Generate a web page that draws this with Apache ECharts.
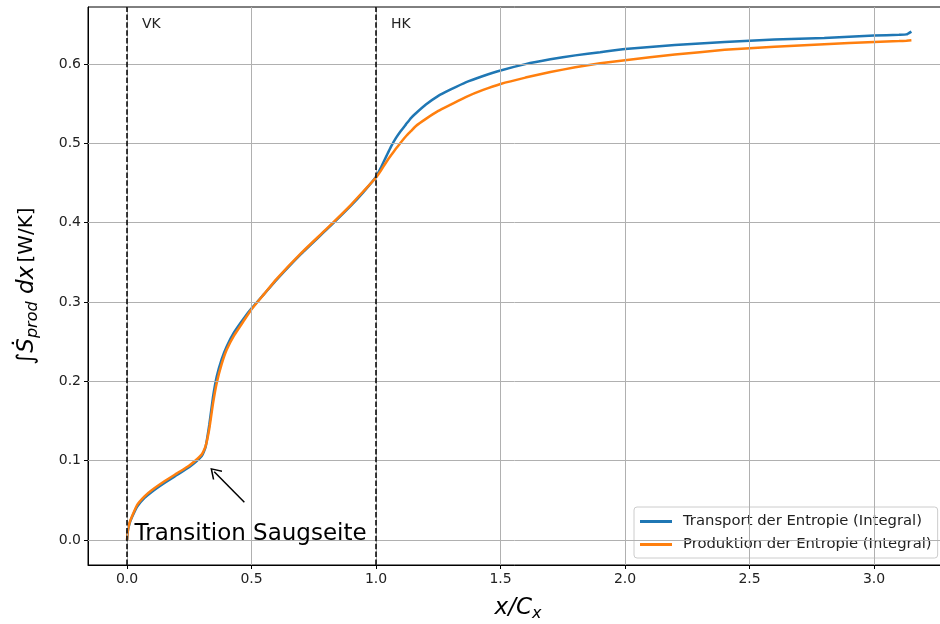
<!DOCTYPE html>
<html>
<head>
<meta charset="utf-8">
<script src="https://cdn.jsdelivr.net/npm/echarts@6/dist/echarts.min.js"></script>
<style>html,body{margin:0;padding:0;background:#fff}#c{width:940px;height:624px}</style>
</head>
<body>
<div id="c"></div>
<script>
const xs = [0, 0.003, 0.01, 0.02, 0.04, 0.07, 0.1, 0.15, 0.2, 0.25, 0.3, 0.315, 0.33, 0.345, 0.36, 0.38, 0.4, 0.43, 0.47, 0.5, 0.55, 0.6, 0.7, 0.8, 0.9, 0.95,
  1.0, 1.02, 1.04, 1.06, 1.08, 1.1, 1.12, 1.14, 1.16, 1.2, 1.25, 1.3, 1.36, 1.43, 1.5, 1.6, 1.7, 1.8, 1.9, 2.0, 2.2, 2.4, 2.6, 2.8, 3.0, 3.1, 3.13, 3.15];
const transport = [0, 0.011, 0.021, 0.029, 0.042, 0.053, 0.061, 0.072, 0.082, 0.092, 0.106, 0.117, 0.145, 0.18, 0.206, 0.228, 0.244, 0.262, 0.28, 0.292, 0.31, 0.328, 0.361, 0.391, 0.422, 0.439,
  0.458, 0.470, 0.483, 0.496, 0.507, 0.516, 0.524, 0.532, 0.538, 0.549, 0.560, 0.568, 0.577, 0.585, 0.592, 0.600, 0.606, 0.611, 0.615, 0.619, 0.624, 0.628, 0.631, 0.633, 0.636, 0.637, 0.6375, 0.641];
const produktion = [0, 0.012, 0.022, 0.03, 0.044, 0.055, 0.063, 0.074, 0.084, 0.094, 0.108, 0.118, 0.14, 0.172, 0.198, 0.222, 0.24, 0.258, 0.277, 0.291, 0.31, 0.329, 0.362, 0.392, 0.423, 0.44,
  0.457, 0.466, 0.476, 0.485, 0.4935, 0.5015, 0.509, 0.5155, 0.522, 0.531, 0.541, 0.549, 0.5585, 0.5675, 0.575, 0.583, 0.590, 0.596, 0.601, 0.605, 0.612, 0.618, 0.622, 0.625, 0.628, 0.629, 0.6295, 0.63];
const xTicks = [0, 0.5, 1.0, 1.5, 2.0, 2.5, 3.0];
const yTicks = [0, 0.1, 0.2, 0.3, 0.4, 0.5, 0.6];
const seriesNames = ['Transport der Entropie (Integral)', 'Produktion der Entropie (Integral)'];
const markerLines = [0, 1];
const markerLabels = ['VK', 'HK'];
const annotationText = 'Transition Saugseite';
const annotationTextAt = [0.03, 0.0];
const arrowFrom = [0.471, 0.0475];
const arrowTo = [0.35, 0.086];

const FONT = 'DejaVu Sans';
const chart = echarts.init(document.getElementById('c'), null, {renderer: 'canvas'});

const gridLineData = [
  ...xTicks.map(v => ({xAxis: v})),
  ...yTicks.map(v => ({yAxis: v}))
];

const option = {
  animation: false,
  backgroundColor: '#fff',
  grid: {left: 88, top: 7, width: 860, bottom: 59, outerBoundsMode: 'none', containLabel: false,
    show: true, borderColor: '#000', borderWidth: 1, backgroundColor: 'transparent'},
  xAxis: {
    type: 'value', min: -0.157, max: 3.297,
    axisLine: {show: true, onZero: false, lineStyle: {color: '#000', width: 1}},
    axisTick: {show: true, customValues: xTicks, length: 4, lineStyle: {color: '#000'}},
    axisLabel: {customValues: xTicks, formatter: v => v.toFixed(1), fontFamily: FONT, fontSize: 14, color: '#222', margin: 7},
    splitLine: {show: false},
    name: '{i|x/C}{s|x}', nameLocation: 'middle', nameGap: 29,
    nameTextStyle: {rich: {
      i: {fontFamily: FONT, fontStyle: 'italic', fontSize: 23, color: '#000'},
      s: {fontFamily: FONT, fontStyle: 'italic', fontSize: 16, color: '#000', padding: [12, 0, 0, 0]}
    }}
  },
  yAxis: {
    type: 'value', min: -0.0315, max: 0.672,
    axisLine: {show: true, onZero: false, lineStyle: {color: '#000', width: 1}},
    axisTick: {show: true, customValues: yTicks, length: 4, lineStyle: {color: '#000'}},
    axisLabel: {customValues: yTicks, formatter: v => v.toFixed(1), fontFamily: FONT, fontSize: 14, color: '#222', margin: 7},
    splitLine: {show: false},
    name: '{m|∫Ṡ}{s|prod}{m| dx} {n|[W/K]}', nameLocation: 'middle', nameGap: 47, nameRotate: 90,
    nameTextStyle: {rich: {
      m: {fontFamily: FONT, fontStyle: 'italic', fontSize: 23, color: '#000'},
      s: {fontFamily: FONT, fontStyle: 'italic', fontSize: 16, color: '#000', padding: [12, 0, 0, 0]},
      n: {fontFamily: FONT, fontSize: 20, color: '#000'}
    }}
  },
  legend: {
    orient: 'vertical', left: 634, top: 507, icon: 'rect', itemWidth: 32, itemHeight: 3, itemGap: 6,
    padding: [6, 6, 5, 6],
    backgroundColor: 'rgba(255,255,255,0.8)', borderColor: '#ccc', borderWidth: 1, borderRadius: 3,
    textStyle: {fontFamily: FONT, fontSize: 14.8, color: '#222', padding: [0, 0, 0, 6], lineHeight: 17},
    data: seriesNames
  },
  series: [
    {
      type: 'line', name: '_grid', data: [], z: 1, silent: true,
      markLine: {silent: true, symbol: ['none', 'none'], animation: false,
        label: {show: false},
        lineStyle: {color: '#b0b0b0', width: 1, type: 'solid'},
        emphasis: {disabled: true},
        data: gridLineData}
    },
    {
      type: 'line', name: seriesNames[0], data: xs.map((x, i) => [x, transport[i]]),
      showSymbol: false, symbol: 'none', z: 3, smooth: 0.15,
      lineStyle: {color: '#1f77b4', width: 2.5}, itemStyle: {color: '#1f77b4'}
    },
    {
      type: 'line', name: seriesNames[1], data: xs.map((x, i) => [x, produktion[i]]),
      showSymbol: false, symbol: 'none', z: 4, smooth: 0.15,
      lineStyle: {color: '#ff7f0e', width: 2.5}, itemStyle: {color: '#ff7f0e'}
    },
    {
      type: 'line', name: '_annot', data: [], z: 6, silent: true,
      markLine: {silent: true, animation: false, symbol: ['none', 'none'],
        label: {show: false}, emphasis: {disabled: true},
        lineStyle: {color: '#000', width: 1.5, type: [5.5, 2.4]},
        data: markerLines.map(v => ({xAxis: v}))},
      markPoint: {silent: true, animation: false, symbol: 'circle', symbolSize: 0,
        data: [
          ...markerLines.map((v, i) => ({coord: [v + 0.06, 0.65],
            label: {show: true, formatter: markerLabels[i], position: [0, 0], align: 'left', verticalAlign: 'middle',
              fontFamily: FONT, fontSize: 14, color: '#222'}})),
          {coord: annotationTextAt,
            label: {show: true, formatter: annotationText, position: [0, 0], align: 'left', verticalAlign: 'bottom',
              offset: [0, 6], fontFamily: FONT, fontSize: 23, color: '#000'}}
        ]}
    },
    {
      type: 'line', name: '_arrow', data: [], z: 6, silent: true,
      markLine: {silent: true, animation: false,
        symbol: ['none', 'path://M50,0 L100,62 L91,68 L50,17 L9,68 L0,62 Z'], symbolSize: [13, 11],
        label: {show: false}, emphasis: {disabled: true},
        lineStyle: {color: '#000', width: 1.5, type: 'solid'},
        data: [[{coord: arrowFrom}, {coord: arrowTo}]]}
    }
  ]
};
chart.setOption(option);
</script>
</body>
</html>
